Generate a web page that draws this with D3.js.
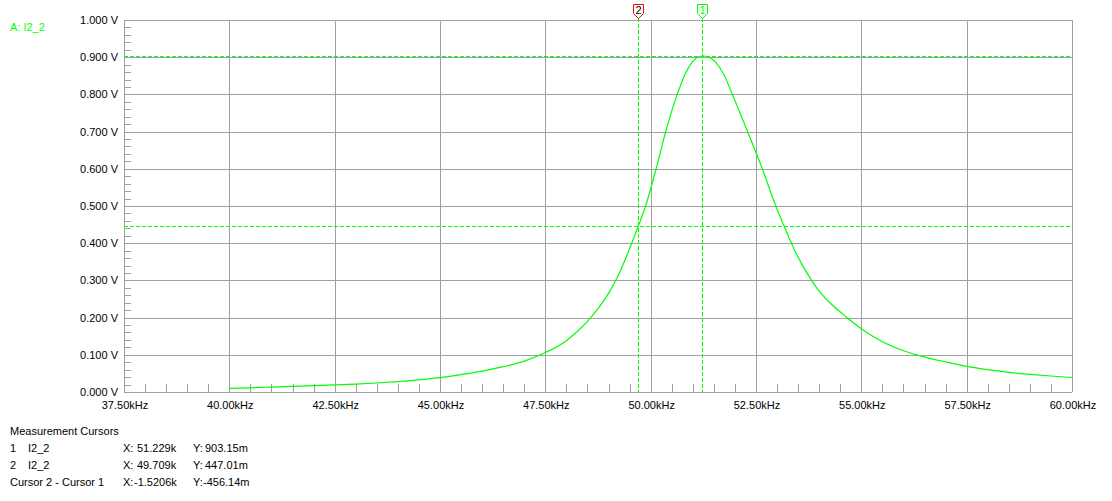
<!DOCTYPE html>
<html>
<head>
<meta charset="utf-8">
<script src="https://cdn.jsdelivr.net/npm/d3@7"></script>
<style>
  html, body { margin: 0; padding: 0; background: #ffffff; }
  svg { display: block; }
  text { font-family: Arial, "Liberation Sans", sans-serif; font-size: 11px; }
</style>
</head>
<body>
<svg id="chart" width="1112" height="501"></svg>
<script>
// ---- Data ----
const freqKHz = [40.0, 40.5, 41.0, 41.5, 42.0, 42.5, 43.0, 43.5, 44.0, 44.5, 45.0, 45.5, 46.0, 46.5, 47.0, 47.5, 48.0, 48.25, 48.5, 48.75, 49.0, 49.25, 49.55, 49.709, 49.88, 50.13, 50.357, 50.63, 50.82, 50.97, 51.1, 51.229, 51.38, 51.53, 51.72, 51.94, 52.30, 52.65, 52.97, 53.17, 53.35, 53.58, 53.82, 54.0, 54.2, 54.65, 55.0, 55.5, 56.0, 56.31, 57.0, 57.5, 58.0, 58.5, 59.0, 59.5, 60.0];
const voltsI2 = [0.0099, 0.0112, 0.0133, 0.0153, 0.0172, 0.0190, 0.0212, 0.0242, 0.0280, 0.0325, 0.0385, 0.0465, 0.0560, 0.0680, 0.0830, 0.1060, 0.1380, 0.1620, 0.1900, 0.2240, 0.2650, 0.3180, 0.4000, 0.4470, 0.5000, 0.6000, 0.7000, 0.8000, 0.8550, 0.8840, 0.8990, 0.9032, 0.9000, 0.8880, 0.8570, 0.8000, 0.7000, 0.6000, 0.5000, 0.4450, 0.3980, 0.3450, 0.3000, 0.2710, 0.2460, 0.2010, 0.1700, 0.1350, 0.1110, 0.1000, 0.0810, 0.0690, 0.0600, 0.0530, 0.0475, 0.0430, 0.0390];

const xTickValues = [37.5, 40, 42.5, 45, 47.5, 50, 52.5, 55, 57.5, 60];
const xTickLabels = ["37.50kHz", "40.00kHz", "42.50kHz", "45.00kHz", "47.50kHz", "50.00kHz", "52.50kHz", "55.00kHz", "57.50kHz", "60.00kHz"];
const yTickValues = [0, 0.1, 0.2, 0.3, 0.4, 0.5, 0.6, 0.7, 0.8, 0.9, 1.0];
const yTickLabels = ["0.000 V", "0.100 V", "0.200 V", "0.300 V", "0.400 V", "0.500 V", "0.600 V", "0.700 V", "0.800 V", "0.900 V", "1.000 V"];

const traceLabel = "A: I2_2";
const cursorIds = ["1", "2"];
const cursorX = [51.229, 49.709];
const cursorY = [0.90315, 0.44701];

const measTitle = "Measurement Cursors";
const measNameA = ["1", "2", "Cursor 2 - Cursor 1"];
const measNameB = ["I2_2", "I2_2", ""];
const measX = ["51.229k", "49.709k", "-1.5206k"];
const measY = ["903.15m", "447.01m", "-456.14m"];

// ---- Layout ----
const svg = d3.select("#chart");
const green = "#00ff00";
const gridColor = "#a0a0a0";
const x = d3.scaleLinear().domain([37.5, 60]).range([124, 1072]);
const y = d3.scaleLinear().domain([0, 1]).range([392, 20]);

const g = svg.append("g").attr("shape-rendering", "crispEdges");

// Grid (major)
g.selectAll("line.vg").data(xTickValues).enter().append("line")
  .attr("x1", d => Math.round(x(d)) + 0.5).attr("x2", d => Math.round(x(d)) + 0.5)
  .attr("y1", y(1)).attr("y2", y(0))
  .attr("stroke", gridColor).attr("stroke-width", 1);
g.selectAll("line.hg").data(yTickValues).enter().append("line")
  .attr("x1", x(37.5)).attr("x2", x(60))
  .attr("y1", d => Math.round(y(d)) + 0.5).attr("y2", d => Math.round(y(d)) + 0.5)
  .attr("stroke", gridColor).attr("stroke-width", 1);

// Minor ticks
const xMinor = d3.range(37.5, 60.0001, 0.5).filter(v => Math.abs((v - 37.5) / 2.5 - Math.round((v - 37.5) / 2.5)) > 1e-6);
g.selectAll("line.xm").data(xMinor).enter().append("line")
  .attr("x1", d => Math.round(x(d)) + 0.5).attr("x2", d => Math.round(x(d)) + 0.5)
  .attr("y1", y(0) - 8).attr("y2", y(0))
  .attr("stroke", gridColor);
const yMinor = d3.range(0, 1.0001, 0.02).filter(v => Math.abs(v * 10 - Math.round(v * 10)) > 1e-6);
g.selectAll("line.ym").data(yMinor).enter().append("line")
  .attr("x1", x(37.5)).attr("x2", x(37.5) + 7)
  .attr("y1", d => Math.round(y(d)) + 0.5).attr("y2", d => Math.round(y(d)) + 0.5)
  .attr("stroke", gridColor);

// Axis labels
svg.selectAll("text.yl").data(yTickValues).enter().append("text")
  .attr("x", 118).attr("y", d => y(d) + 4)
  .attr("text-anchor", "end").attr("fill", "#000")
  .text((d, i) => yTickLabels[i]);
svg.selectAll("text.xl").data(xTickValues).enter().append("text")
  .attr("x", d => x(d) + 1).attr("y", 409)
  .attr("text-anchor", "middle").attr("fill", "#000")
  .text((d, i) => xTickLabels[i]);

// Trace
const pts = freqKHz.map((f, i) => [f, voltsI2[i]]);
svg.append("path")
  .attr("d", d3.line().x(d => x(d[0])).y(d => y(d[1])).curve(d3.curveMonotoneX)(pts))
  .attr("fill", "none").attr("stroke", green).attr("stroke-width", 1.2);

// Cursor lines
const cg = svg.append("g").attr("shape-rendering", "crispEdges");
cursorX.forEach((cx, i) => {
  const px = Math.round(x(cx)) + 0.5;
  cg.append("line").attr("x1", px).attr("x2", px).attr("y1", 18).attr("y2", y(0))
    .attr("stroke", green).attr("stroke-dasharray", "4,2");
});
cursorY.forEach((cy, i) => {
  const py = Math.round(y(cy)) + 0.5;
  cg.append("line").attr("x1", x(37.5)).attr("x2", x(60)).attr("y1", py).attr("y2", py)
    .attr("stroke", green).attr("stroke-dasharray", "4,2");
});

// Cursor markers
const markerColors = [green, "#ff0000"];
const markerText = [green, "#000"];
cursorX.forEach((cx, i) => {
  const px = Math.round(x(cx)) + 0.5;
  const top = 4.5, boxB = 13.5, tip = 18.5, hw = 5;
  svg.append("path")
    .attr("d", `M${px - hw},${top} L${px + hw},${top} L${px + hw},${boxB} L${px},${tip} L${px - hw},${boxB} Z`)
    .attr("fill", "#fff").attr("stroke", markerColors[i]).attr("stroke-width", 1);
  svg.append("text").attr("x", px).attr("y", 14).attr("text-anchor", "middle")
    .attr("fill", markerText[i]).style("font-size", "11px").text(cursorIds[i]);
});

// Trace label
svg.append("text").attr("x", 10).attr("y", 31).attr("fill", green).text(traceLabel);

// Measurement table
svg.append("text").attr("x", 10).attr("y", 435).attr("fill", "#000").text(measTitle);
const rowY = [452, 469, 486];
measNameA.forEach((n, i) => {
  svg.append("text").attr("x", 10).attr("y", rowY[i]).attr("fill", "#000").text(n);
  if (measNameB[i]) svg.append("text").attr("x", 28).attr("y", rowY[i]).attr("fill", "#000").text(measNameB[i]);
  svg.append("text").attr("x", 123).attr("y", rowY[i]).attr("fill", "#000").text("X:");
  svg.append("text").attr("x", measX[i].startsWith("-") ? 134 : 137).attr("y", rowY[i]).attr("fill", "#000").text(measX[i]);
  svg.append("text").attr("x", 193).attr("y", rowY[i]).attr("fill", "#000").text("Y:");
  svg.append("text").attr("x", measY[i].startsWith("-") ? 203 : 205).attr("y", rowY[i]).attr("fill", "#000").text(measY[i]);
});
</script>
</body>
</html>
